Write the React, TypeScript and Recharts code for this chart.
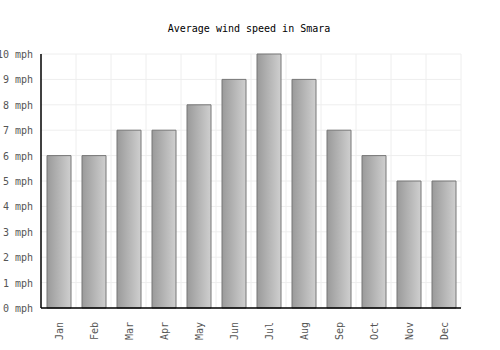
import React from 'react';
import { BarChart, Bar, XAxis, YAxis, CartesianGrid } from 'recharts';

const months = ['Jan', 'Feb', 'Mar', 'Apr', 'May', 'Jun', 'Jul', 'Aug', 'Sep', 'Oct', 'Nov', 'Dec'];
const windSpeed = [6, 6, 7, 7, 8, 9, 10, 9, 7, 6, 5, 5];
const yTicks = [0, 1, 2, 3, 4, 5, 6, 7, 8, 9, 10];

const chartData = months.map((month, i) => ({ month, speed: windSpeed[i] }));

const FONT = '"DejaVu Sans Mono", monospace';

// Rotated month labels under the axis
const MonthTick = ({ x, y, payload }: any) => (
  <text
    x={x}
    y={y}
    transform={`rotate(-90, ${x}, ${y})`}
    dx={-6}
    dy={4}
    textAnchor="end"
    fontSize={10}
    fontFamily={FONT}
    fill="#555"
  >
    {payload.value}
  </text>
);

// Plain single-line y labels (the default tick wraps them)
const MphTick = ({ x, y, payload }: any) => (
  <text x={x} y={y} dy={4} textAnchor="end" fontSize={10} fontFamily={FONT} fill="#555">
    {`${payload.value} mph`}
  </text>
);

const App: React.FC = () => {
  return (
    <div style={{ position: 'absolute', left: 0, top: 0, width: 500, height: 350, background: '#fff' }}>
      <svg width={500} height={350} style={{ position: 'absolute', left: 0, top: 0 }}>
        <text x={249} y={32} textAnchor="middle" fontSize={10} fontFamily={FONT} fill="#000">
          Average wind speed in Smara
        </text>
      </svg>
      <div style={{ position: 'absolute', left: 0, top: 0 }}>
        <BarChart
          width={500}
          height={350}
          data={chartData}
          margin={{ top: 54, right: 39, bottom: 0, left: 0 }}
          barSize={24}
        >
          <defs>
            <linearGradient id="barFill" x1="0" y1="0" x2="1" y2="0">
              <stop offset="0%" stopColor="#9a9a9a" />
              <stop offset="100%" stopColor="#cfcfcf" />
            </linearGradient>
          </defs>
          <CartesianGrid
            stroke="#eeeeee"
            verticalCoordinatesGenerator={({ offset }: any) =>
              months.map((_, i) => offset.left + ((i + 1) * offset.width) / months.length)
            }
          />
          <XAxis
            dataKey="month"
            height={42}
            tickLine={false}
            axisLine={{ stroke: '#000', strokeWidth: 1.5 }}
            tick={<MonthTick />}
            interval={0}
          />
          <YAxis
            width={41}
            domain={[0, 10]}
            ticks={yTicks}
            tickLine={false}
            axisLine={{ stroke: '#000', strokeWidth: 1.5 }}
            tick={<MphTick />}
            interval={0}
          />
          <Bar
            dataKey="speed"
            fill="url(#barFill)"
            stroke="#777"
            strokeWidth={1}
            isAnimationActive={false}
          />
        </BarChart>
      </div>
    </div>
  );
};

export default App;
